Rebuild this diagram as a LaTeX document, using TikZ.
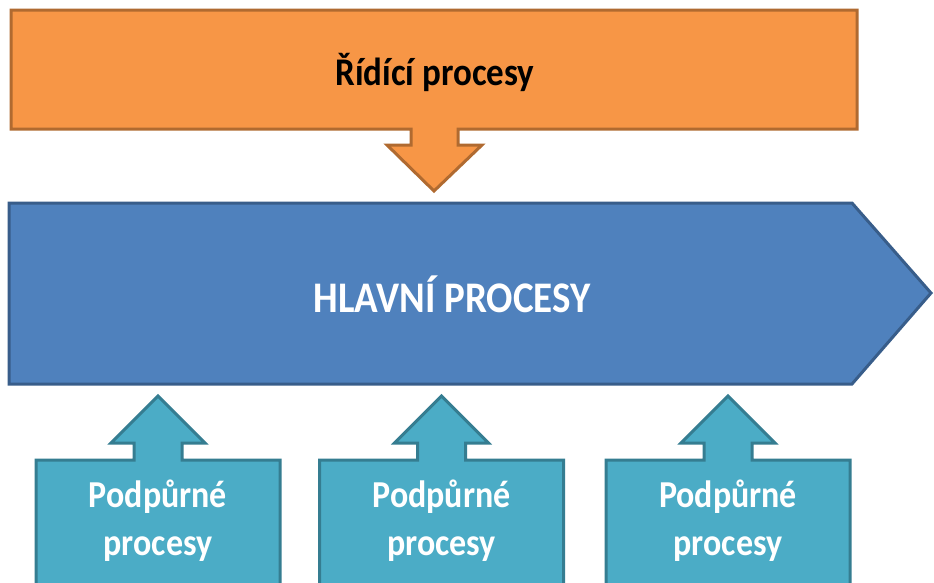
\documentclass[tikz,border=0pt]{standalone}
\usepackage{fontspec}
\setmainfont{Carlito}
\definecolor{orfill}{HTML}{F79646}
\definecolor{ordraw}{HTML}{B06A30}
\definecolor{blfill}{HTML}{4F81BD}
\definecolor{bldraw}{HTML}{385D8A}
\definecolor{tefill}{HTML}{4BACC6}
\definecolor{tedraw}{HTML}{357D91}
\newcommand{\tallt}[1]{\scalebox{1}[1.12]{#1}}
\begin{document}
\begin{tikzpicture}[x=1pt,y=-1pt,
  orshape/.style={fill=orfill,draw=ordraw,line width=3pt,line join=miter},
  blshape/.style={fill=blfill,draw=bldraw,line width=3pt,line join=miter},
  teshape/.style={fill=tefill,draw=tedraw,line width=3pt,line join=miter},
  lbl/.style={font=\bfseries\fontsize{#1}{#1}\selectfont,inner sep=0pt}]
\useasboundingbox (0,0) rectangle (934,582);
\fill[white] (0,0) rectangle (934,582);
\clip (0,0) rectangle (934,582);
% control processes
\draw[orshape] (11,10) -- (857,10) -- (857,129) -- (458,129) -- (458,145) -- (482,145)
  -- (434,191) -- (387,145) -- (411,145) -- (411,129) -- (11,129) -- cycle;
\node[lbl=35,text=black] (ctrl) at (435,72) {\tallt{Řídící procesy}};
% main processes
\draw[blshape] (9,203) -- (852,203) -- (931,293) -- (852,384) -- (9,384) -- cycle;
\node[lbl=39,text=white] (main) at (452,294) {\tallt{HLAVNÍ PROCESY}};
% support processes
\foreach \c/\n in {158/s1,441.5/s2,728/s3}{
  \draw[teshape] (\c-122,460) -- (\c-24,460) -- (\c-24,443) -- (\c-47,443) -- (\c,396)
    -- (\c+47,443) -- (\c+24,443) -- (\c+24,460) -- (\c+122,460) -- (\c+122,600)
    -- (\c-122,600) -- cycle;
  \node[lbl=34,text=white,align=center] (\n) at (\c,521)
    {\tallt{Podpůrné}\\[14pt]\tallt{procesy}};
}
\end{tikzpicture}
\end{document}
